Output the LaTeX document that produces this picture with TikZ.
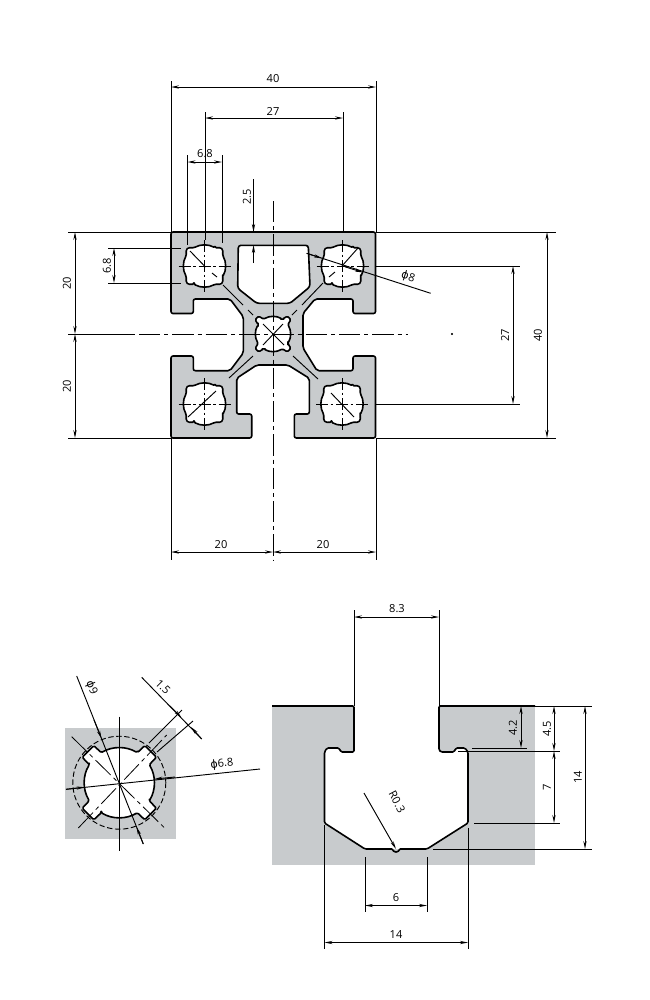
\documentclass[tikz,border=0pt]{standalone}
\usepackage{fontspec}
\setmainfont{Open Sans}
\newfontfamily\phifont{DejaVu Sans}
\usetikzlibrary{arrows.meta}
\definecolor{profilegray}{RGB}{200,203,205}
\tikzset{
  dimline/.style={line width=0.7pt,{Stealth[length=6pt,width=2.4pt]}-{Stealth[length=6pt,width=2.4pt]}},
  leadline/.style={line width=0.7pt,-{Stealth[length=6pt,width=2.4pt]}},
  extline/.style={line width=0.7pt},
  centerline/.style={line width=0.6pt,dash pattern=on 16pt off 3pt on 3pt off 3pt},
  holecross/.style={line width=0.6pt,dash pattern=on 9pt off 2pt on 2pt off 2pt},
  outline/.style={line width=1.2pt,line join=round},
  dimtext/.style={inner sep=0pt,font=\fontsize{8.3}{9}\selectfont}
}
\newcommand{\slothole}[6]{%
  \draw[outline,fill=white,rounded corners=1pt,shift={(#1,#2)}]
    ({45-#6}:#3) foreach \s in {45,135,225,315} {
      -- ({\s-#6}:#3) -- ({\s-#5}:#4) -- ({\s+#5}:#4) -- ({\s+#6}:#3)
      arc[start angle=\s+#6,end angle=\s+90-#6,radius=#3]
    } -- cycle;
}
\begin{document}
\begin{tikzpicture}[x=0.75pt,y=-0.75pt]
  \useasboundingbox (0,0) rectangle (650,1000);
  % profile
  \draw[outline,fill=profilegray,rounded corners=1.5pt]
    (171,232) -- (375.5,232) -- (375.5,313.5) -- (353,313.5) -- (353,299)
    -- (315,299) -- (303,313.5) -- (303,348) -- (317,370.7) -- (353,370.7)
    -- (353,356) -- (375.5,356) -- (375.5,438) -- (294.3,438) -- (294.3,414)
    -- (309.3,414) -- (309.3,378.3) -- (288,365) -- (256.7,365) -- (236.7,378.3)
    -- (236.7,414) -- (251.7,414) -- (251.7,438) -- (171,438) -- (171,356)
    -- (193.3,356) -- (193.3,370.7) -- (230,370.7) -- (243.3,353) -- (243.3,316.7)
    -- (230,299) -- (193.3,299) -- (193.3,313.5) -- (171,313.5) -- cycle;
  \draw[outline,fill=white,rounded corners=2pt]
    (238.3,245.3) -- (308.3,245.3) -- (310,286.7) -- (290,303.3)
    -- (256.7,303.3) -- (237.7,288.3) -- cycle;
  \foreach \hx/\hy in {204.5/266,342.5/266,204.5/404,342/404} {
    \slothole{\hx}{\hy}{21}{24.5}{3.5}{15}
    \draw[holecross] (\hx-26,\hy) -- (\hx+26,\hy);
    \draw[holecross] (\hx,\hy-26) -- (\hx,\hy+26);
  }
  \slothole{273}{334}{17.5}{23}{6}{13}
  \draw[extline] (190,251) -- (205.5,267) (212,273) -- (217,277);
  \draw[extline] (358,248) -- (342,266) (335,272) -- (329,277);
  \draw[extline] (188,417) -- (216,391);
  \draw[extline] (331,393) -- (354,417);
  \draw[extline] (263,324) -- (284,345) (283,324) -- (263,345);
  \draw[extline] (223,285) -- (243,305) (248,310) -- (253,315);
  \draw[extline] (323,283) -- (302,305) (297,310) -- (292,315);
  \draw[extline] (229,378) -- (253,356);
  \draw[extline] (318,379) -- (293,356);
  % centre lines
  \draw[extline] (68,334) -- (135,334);
  \draw[centerline] (139,334) -- (408,334);
  \draw[centerline] (273,201) -- (273,560);
  % upper dimensions
  \draw[extline] (171,81) -- (171,232);
  \draw[extline] (376,81) -- (376,232);
  \draw[dimline] (171,87) -- (376,87);
  \node[dimtext] (widthtop) at (273,79) {40};
  \draw[extline] (205,112) -- (205,155);
  \draw[extline] (343,112) -- (343,232);
  \draw[dimline] (205,118) -- (343,118);
  \node[dimtext] (pitchtop) at (273,111) {27};
  \draw[extline] (187.5,155) -- (187.5,245);
  \draw[extline] (222,155) -- (222,243);
  \draw[extline] (205,155) -- (205,240);
  \draw[dimline] (187.5,162) -- (222,162);
  \node[dimtext] (borea) at (205,154) {6.8};
  \draw[extline] (253.5,179) -- (253.5,232);
  \draw[-{Stealth[length=6pt,width=2.4pt]},extline] (253.5,208) -- (253.5,232);
  \draw[-{Stealth[length=6pt,width=2.4pt]},extline] (253.5,263) -- (253.5,245);
  \node[dimtext,rotate=90] (wall) at (247,197) {2.5};
  % left dimensions
  \draw[extline] (68,232) -- (171,232);
  \draw[extline] (68,438) -- (171,438);
  \draw[dimline] (75,232) -- (75,334);
  \draw[dimline] (75,334) -- (75,438);
  \node[dimtext,rotate=90] (halfa) at (67,283) {20};
  \node[dimtext,rotate=90] (halfb) at (67,386) {20};
  \draw[extline] (108,248) -- (181,248);
  \draw[extline] (108,283) -- (181,283);
  \draw[dimline] (114,248) -- (114,283);
  \node[dimtext,rotate=90] (boreb) at (107,266) {6.8};
  % right dimensions
  \draw[extline] (376,232) -- (556,232);
  \draw[extline] (376,438) -- (556,438);
  \draw[dimline] (547,232) -- (547,438);
  \node[dimtext,rotate=90] (heightright) at (538,335) {40};
  \draw[extline] (376,266) -- (520,266);
  \draw[extline] (376,404) -- (520,404);
  \draw[dimline] (513,266) -- (513,404);
  \node[dimtext,rotate=90] (pitchright) at (505,335) {27};
  \draw[extline] (306.7,253.3) -- (430.7,293.3);
  \draw[leadline] (345,266.8) -- (363,272.4);
  \draw[leadline] (306.7,253.3) -- (322,258.3);
  \node[dimtext,rotate=-18] (borephi) at (408,277) {{\phifont ϕ}8};
  \filldraw (452,334) circle (0.7);
  % lower dimensions
  \draw[extline] (171,438) -- (171,560);
  \draw[extline] (376,438) -- (376,560);
  \draw[dimline] (171,552) -- (273,552);
  \draw[dimline] (273,552) -- (376,552);
  \node[dimtext] (halfc) at (221,545) {20};
  \node[dimtext] (halfd) at (323,545) {20};
  % hole detail
  \fill[profilegray] (65,728) rectangle (176,839);
  \slothole{119.3}{782.7}{35}{45}{10.5}{14}
  \draw[extline,dash pattern=on 4pt off 2pt] (119.3,782.7) circle (46.5);
  \draw[extline] (119.3,716.7) -- (119.3,850.7);
  \draw[centerline] (71.7,736.7) -- (166.7,830);
  \draw[centerline] (78.3,828) -- (166.7,735);
  \draw[extline] (76.7,676) -- (143.3,844);
  \draw[leadline] (94,720) -- (101.5,738.5);
  \draw[leadline] (143.3,844) -- (136.5,827);
  \node[dimtext,rotate=-68] (phinine) at (91.5,688) {{\phifont ϕ}9};
  \draw[extline] (66,789.3) -- (260,769);
  \draw[leadline] (66,789.3) -- (84.5,787.2);
  \draw[leadline] (175,777) -- (154.5,779);
  \node[dimtext,rotate=6] (phisix) at (222,764) {{\phifont ϕ}6.8};
  \draw[extline] (149,743) -- (182,710);
  \draw[extline] (157,752) -- (193,721);
  \draw[extline] (141.7,677.3) -- (201.7,739);
  \draw[leadline] (170,706) -- (181.5,717.5);
  \draw[leadline] (201.7,739) -- (191,727);
  \node[dimtext,rotate=-45] (slotwidth) at (163,687) {1.5};
  % slot detail
  \fill[profilegray] (272,706) rectangle (535,865);
  \fill[white,rounded corners=1pt]
    (354,700) -- (354,752) -- (341,752) -- (339,748) -- (327,748) -- (324.5,752)
    -- (324.5,823) -- (365,849) -- (427,849) -- (468,823) -- (468,752)
    -- (465,748) -- (456,748) -- (454,752) -- (441,752) -- (439,750) -- (439,700) -- cycle;
  \draw[outline,rounded corners=1pt]
    (272,706) -- (354,706) -- (354,752) -- (341,752) -- (339,748) -- (327,748)
    -- (324.5,752) -- (324.5,823) -- (365,849) -- (393,849)
    arc[start angle=180,end angle=0,radius=3] -- (427,849) -- (468,823)
    -- (468,752) -- (465,748) -- (456,748) -- (454,752) -- (441,752)
    -- (439,750) -- (439,706) -- (535,706);
  \draw[extline] (354,610) -- (354,706);
  \draw[extline] (439,610) -- (439,706);
  \draw[dimline] (354,617) -- (439,617);
  \node[dimtext] (slotopen) at (397,609) {8.3};
  \draw[extline] (439,706) -- (592,706);
  \draw[extline] (472,748) -- (527,748);
  \draw[extline] (458,751) -- (560,751);
  \draw[extline] (474,823) -- (560,823);
  \draw[extline] (433,849) -- (592,849);
  \draw[dimline] (521,706) -- (521,748);
  \node[dimtext,rotate=90] (lipa) at (513,728) {4.2};
  \draw[dimline] (554,706) -- (554,751);
  \node[dimtext,rotate=90] (lipb) at (547,729) {4.5};
  \draw[dimline] (554,751) -- (554,823);
  \node[dimtext,rotate=90] (wallslot) at (547,787) {7};
  \draw[dimline] (585,706) -- (585,849);
  \node[dimtext,rotate=90] (depth) at (578,777) {14};
  \draw[leadline] (364,793) -- (396,849);
  \node[dimtext,rotate=-62] (radius) at (397,802) {R0.3};
  \draw[extline] (365,857) -- (365,912);
  \draw[extline] (427,857) -- (427,912);
  \draw[dimline] (365,905.5) -- (427,905.5);
  \node[dimtext] (floor) at (396,898) {6};
  \draw[extline] (324.5,825) -- (324.5,949);
  \draw[extline] (468,828) -- (468,949);
  \draw[dimline] (324.5,942.5) -- (468,942.5);
  \node[dimtext] (slotwide) at (396,935) {14};
\end{tikzpicture}
\end{document}
